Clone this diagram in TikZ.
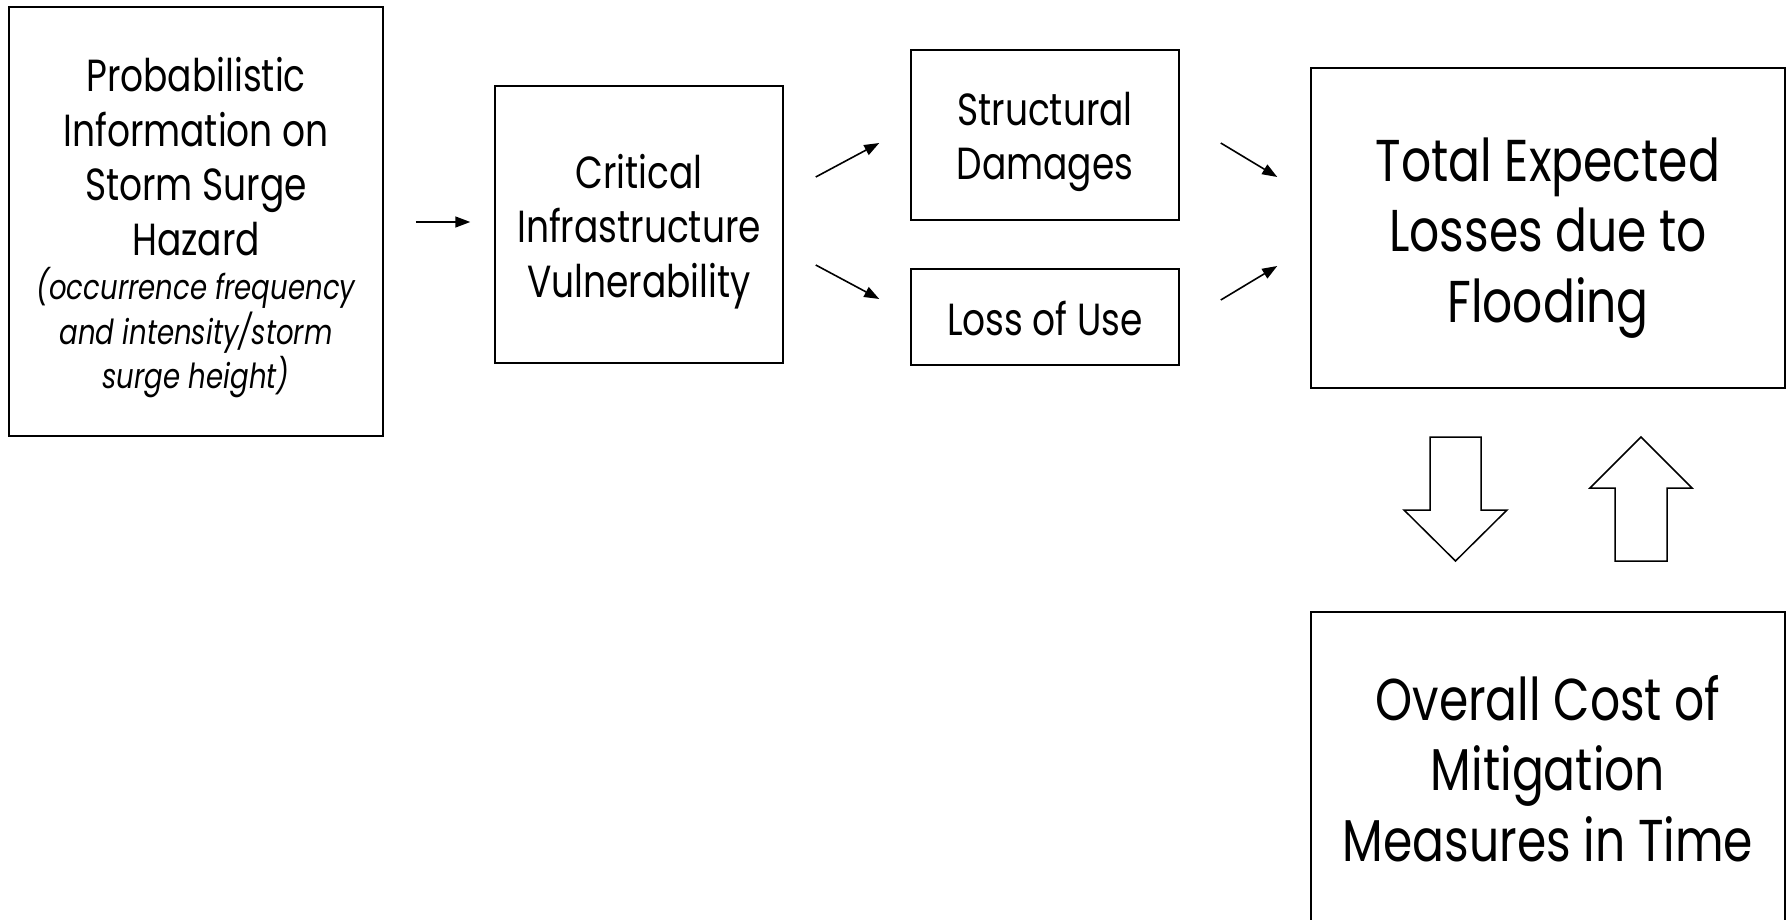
\documentclass[tikz,border=0pt]{standalone}
\usepackage{fontspec}
\setmainfont[FakeStretch=0.8]{Poppins}
\usetikzlibrary{arrows.meta,calc}
\tikzset{
  box/.style={draw=black,line width=1.5pt,rectangle,inner sep=0pt},
  txt/.style={align=center,inner sep=0pt},
  conn/.style={line width=1.6pt,-{Triangle[length=15pt,width=11pt]}},
  blockarrow/.style={draw=black,line width=1.5pt,fill=white,line join=miter},
  midtxt/.style={txt,font=\fontsize{45}{54.7}\selectfont},
  ittxt/.style={txt,font=\fontsize{34.5}{44.5}\selectfont\itshape},
  bigtxt/.style={txt,font=\fontsize{59}{70.7}\selectfont},
}
\begin{document}
\begin{tikzpicture}[x=1pt,y=-1pt]
\useasboundingbox (0,0) rectangle (1788,920);
\node[box,minimum width=374pt,minimum height=429pt] (b1) at (196,221.5) {};
\node[midtxt] (t1) at (196,156.5) {Probabilistic\\Information on\\Storm Surge\\Hazard};
\node[ittxt] (t1i) at (196,333) {(occurrence frequency\\and intensity/storm\\surge height)};
\node[box,minimum width=288pt,minimum height=277pt] (b2) at (639,224.5) {};
\node[midtxt] (t2) at ($(b2.center)+(0,7)$) {Critical\\Infrastructure\\Vulnerability};
\node[box,minimum width=268pt,minimum height=170pt] (b3) at (1045,135) {};
\node[midtxt] (t3) at ($(b3.center)+(0,7)$) {Structural\\Damages};
\node[box,minimum width=268pt,minimum height=96pt] (b4) at (1045,317) {};
\node[midtxt] (t4) at ($(b4.center)+(0,2)$) {Loss of Use};
\node[box,minimum width=474pt,minimum height=320pt] (b5) at (1548,228) {};
\node[bigtxt] (t5) at ($(b5.center)+(0,10)$) {Total Expected\\Losses due to\\Flooding};
\node[box,minimum width=474pt,minimum height=318pt] (b6) at (1548,771) {};
\node[bigtxt] (t6) at ($(b6.center)+(0,-2.5)$) {Overall Cost of\\Mitigation\\Measures in Time};
\draw[conn] ($(b1.east)+(32,0.5)$) -- ($(b2.west)+(-24,-2.5)$);
\draw[conn] ($(b2.east)+(32,-47.5)$) -- ($(b3.west)+(-31,8)$);
\draw[conn] ($(b2.east)+(32,40.5)$) -- ($(b4.west)+(-31,-18)$);
\draw[conn] ($(b3.east)+(41,8)$) -- ($(b5.west)+(-33,-51)$);
\draw[conn] ($(b4.east)+(41,-17)$) -- ($(b5.west)+(-33,38)$);
\draw[blockarrow] (1430,437) -- (1481,437) -- (1481,510) -- (1507,510) -- (1455.5,561) -- (1404,510) -- (1430,510) -- cycle;
\draw[blockarrow] (1641,437) -- (1692,488) -- (1667,488) -- (1667,561) -- (1615,561) -- (1615,488) -- (1590,488) -- cycle;
\end{tikzpicture}
\end{document}
